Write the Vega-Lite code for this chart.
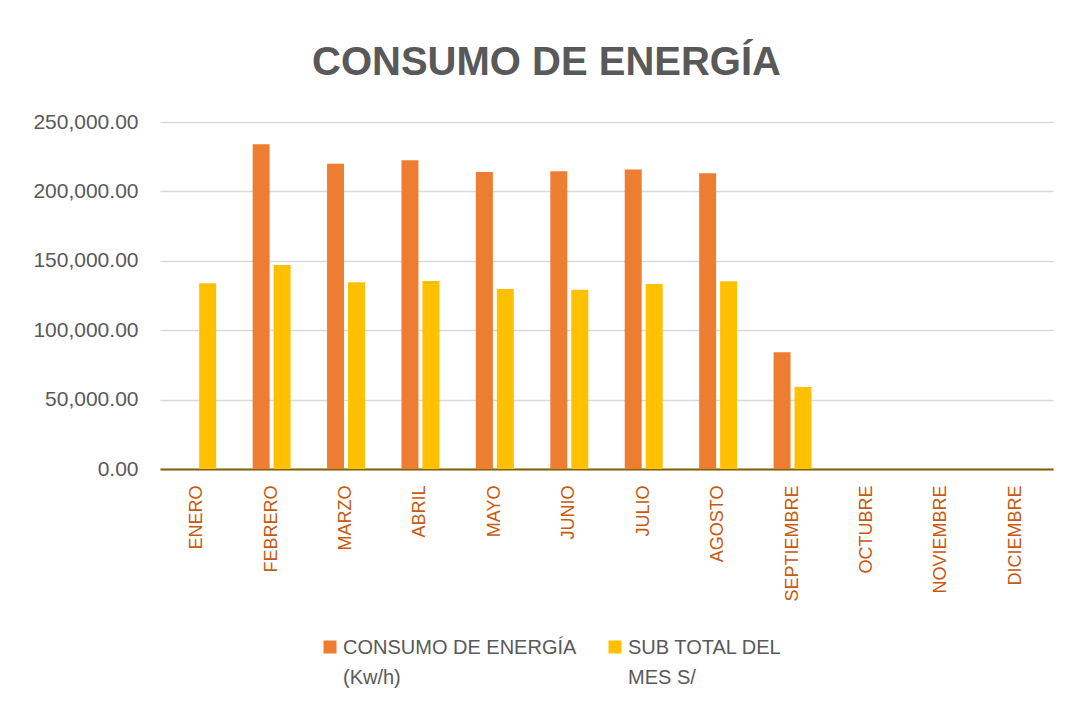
{
  "$schema": "https://vega.github.io/schema/vega-lite/v6.json",
  "width": 893,
  "height": 347,
  "autosize": {"type": "none"},
  "padding": {"left": 160, "top": 122, "right": 19, "bottom": 238},
  "background": "white",
  "title": {
    "text": "CONSUMO DE ENERGÍA",
    "font": "Liberation Sans",
    "fontSize": 40,
    "fontWeight": "bold",
    "color": "#595959",
    "anchor": "middle",
    "dx": -60,
    "offset": 28
  },
  "data": {
    "values": [
      {"mes": "ENERO", "serie": "SUB TOTAL DEL MES S/", "valor": 133800},
      {"mes": "FEBRERO", "serie": "CONSUMO DE ENERGÍA (Kw/h)", "valor": 233900},
      {"mes": "FEBRERO", "serie": "SUB TOTAL DEL MES S/", "valor": 147000},
      {"mes": "MARZO", "serie": "CONSUMO DE ENERGÍA (Kw/h)", "valor": 220000},
      {"mes": "MARZO", "serie": "SUB TOTAL DEL MES S/", "valor": 134500},
      {"mes": "ABRIL", "serie": "CONSUMO DE ENERGÍA (Kw/h)", "valor": 222400},
      {"mes": "ABRIL", "serie": "SUB TOTAL DEL MES S/", "valor": 135500},
      {"mes": "MAYO", "serie": "CONSUMO DE ENERGÍA (Kw/h)", "valor": 214000},
      {"mes": "MAYO", "serie": "SUB TOTAL DEL MES S/", "valor": 129700},
      {"mes": "JUNIO", "serie": "CONSUMO DE ENERGÍA (Kw/h)", "valor": 214500},
      {"mes": "JUNIO", "serie": "SUB TOTAL DEL MES S/", "valor": 129200},
      {"mes": "JULIO", "serie": "CONSUMO DE ENERGÍA (Kw/h)", "valor": 215700},
      {"mes": "JULIO", "serie": "SUB TOTAL DEL MES S/", "valor": 133300},
      {"mes": "AGOSTO", "serie": "CONSUMO DE ENERGÍA (Kw/h)", "valor": 213000},
      {"mes": "AGOSTO", "serie": "SUB TOTAL DEL MES S/", "valor": 135200},
      {"mes": "SEPTIEMBRE", "serie": "CONSUMO DE ENERGÍA (Kw/h)", "valor": 84100},
      {"mes": "SEPTIEMBRE", "serie": "SUB TOTAL DEL MES S/", "valor": 59100}
    ]
  },
  "mark": {"type": "bar"},
  "encoding": {
    "x": {
      "field": "mes",
      "type": "nominal",
      "scale": {
        "domain": ["ENERO", "FEBRERO", "MARZO", "ABRIL", "MAYO", "JUNIO", "JULIO", "AGOSTO", "SEPTIEMBRE", "OCTUBRE", "NOVIEMBRE", "DICIEMBRE"],
        "paddingInner": 0.49,
        "paddingOuter": 0.245
      },
      "axis": {
        "title": null,
        "labelAngle": -90,
        "labelFont": "Liberation Sans",
        "labelFontSize": 18,
        "labelColor": "#C55A11",
        "labelPadding": 16,
        "ticks": false,
        "domainColor": "#806000",
        "domainWidth": 2,
        "grid": false
      }
    },
    "xOffset": {
      "field": "serie",
      "type": "nominal",
      "scale": {"domain": ["CONSUMO DE ENERGÍA (Kw/h)", "SUB TOTAL DEL MES S/"], "paddingInner": 0.19}
    },
    "y": {
      "field": "valor",
      "type": "quantitative",
      "scale": {"domain": [0, 250000], "nice": false},
      "axis": {
        "title": null,
        "values": [0, 50000, 100000, 150000, 200000, 250000],
        "format": ",.2f",
        "labelFont": "Liberation Sans",
        "labelFontSize": 21,
        "labelColor": "#595959",
        "labelPadding": 22,
        "ticks": false,
        "domain": false,
        "gridColor": "#D9D9D9",
        "gridWidth": 1.5
      }
    },
    "color": {
      "field": "serie",
      "type": "nominal",
      "scale": {"domain": ["CONSUMO DE ENERGÍA (Kw/h)", "SUB TOTAL DEL MES S/"], "range": ["#ED7D31", "#FFC000"]},
      "legend": {
        "title": null,
        "orient": "none",
        "legendX": 160,
        "legendY": 515,
        "direction": "horizontal",
        "columns": 2,
        "columnPadding": 28,
        "symbolType": "square",
        "symbolSize": 169,
        "symbolStrokeWidth": 0,
        "labelFont": "Liberation Sans",
        "labelFontSize": 20,
        "labelColor": "#595959",
        "labelOffset": 3,
        "labelLimit": 400,
        "labelBaseline": "top",
        "labelExpr": "datum.label == 'CONSUMO DE ENERGÍA (Kw/h)' ? ['CONSUMO DE ENERGÍA', '\u2002(Kw/h)'] : ['SUB TOTAL DEL', 'MES S/']",
        "encode": {
          "labels": {
            "update": {
              "lineHeight": {"value": 30},
              "dy": {"value": -9}
            }
          }
        }
      }
    }
  },
  "config": {"view": {"stroke": null}}
}
